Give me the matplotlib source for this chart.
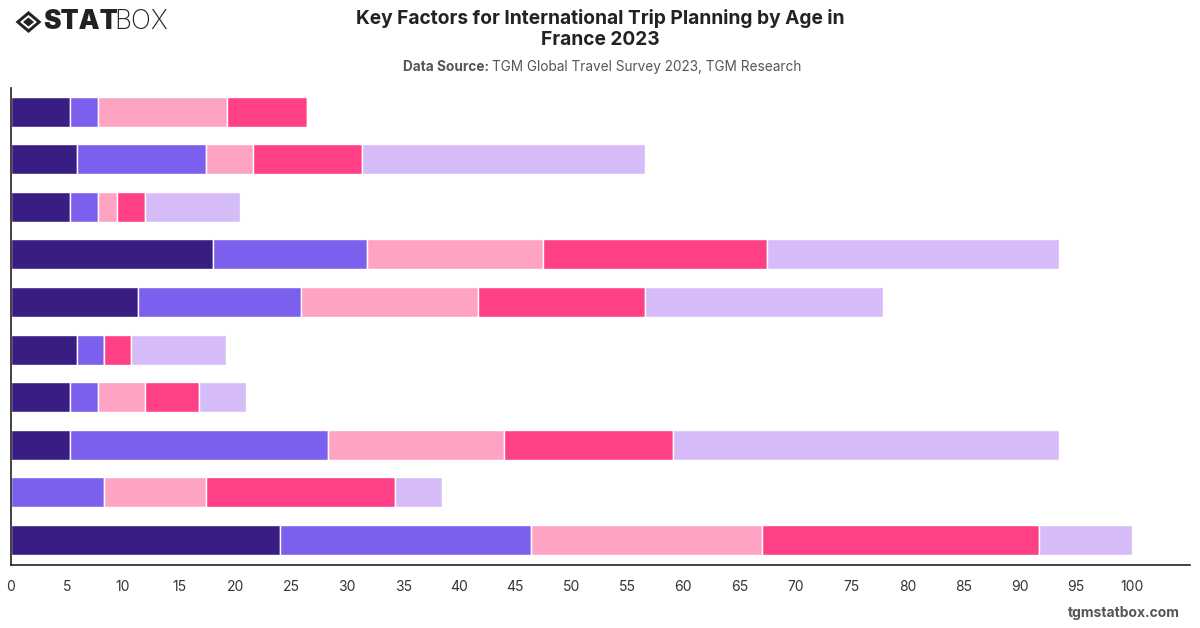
import matplotlib
matplotlib.use("Agg")
import matplotlib.pyplot as plt
from matplotlib.patches import Polygon
import numpy as np

plt.rcParams['font.family'] = ['Inter', 'DejaVu Sans']

categories = ["Factor 1", "Factor 2", "Factor 3", "Factor 4", "Factor 5",
              "Factor 6", "Factor 7", "Factor 8", "Factor 9", "Factor 10"]
series_names = ["Age group 1", "Age group 2", "Age group 3", "Age group 4", "Age group 5"]
s1 = [5.3, 5.9, 5.3, 18.0, 11.3, 5.9, 5.3, 5.3, 0.0, 24.0]
s2 = [2.5, 11.5, 2.5, 13.8, 14.6, 2.4, 2.5, 23.0, 8.3, 22.4]
s3 = [11.5, 4.2, 1.7, 15.7, 15.8, 0.0, 4.2, 15.7, 9.1, 20.6]
s4 = [7.1, 9.7, 2.5, 20.0, 14.9, 2.4, 4.8, 15.1, 16.9, 24.7]
s5 = [0.0, 25.3, 8.4, 26.0, 21.2, 8.5, 4.2, 34.4, 4.2, 8.3]
series = [s1, s2, s3, s4, s5]
colors = ["#391d83", "#7d5fed", "#ffa3c4", "#ff3f86", "#d5bbf8"]
xticks = list(range(0, 101, 5))

fig = plt.figure(figsize=(12, 6.28), dpi=100)
ax = fig.add_axes([11/1200, 63/628, (1190-11)/1200, (565-88)/628])

y = np.arange(len(categories))
left = np.zeros(len(categories))
for vals, c, name in zip(series, colors, series_names):
    v = np.array(vals)
    ax.barh(y, v, left=left, height=0.63, color=c, edgecolor="white",
            linewidth=1.0, label=name)
    left = left + v

ax.set_xlim(0, 105.2)
ax.set_ylim(9.53, -0.5)
ax.set_yticks([])
ax.set_xticks(xticks)
ax.set_xticklabels([str(t) for t in xticks], fontsize=10, color="#333333")
for lbl in ax.get_xticklabels():
    lbl.set_x(lbl.get_position()[0])
ax.tick_params(axis='x', length=0, pad=11)
for s in ["top", "right"]:
    ax.spines[s].set_visible(False)
ax.spines["left"].set_color("#222222")
ax.spines["bottom"].set_color("#222222")
ax.spines["left"].set_linewidth(1.2)
ax.spines["bottom"].set_linewidth(1.2)

fig.text(0.5, 1 - 18/628, "Key Factors for International Trip Planning by Age in",
         ha="center", va="center", fontsize=13.8, fontweight="bold", color="#222222")
fig.text(0.5, 1 - 40/628, "France 2023",
         ha="center", va="center", fontsize=13.8, fontweight="bold", color="#222222")
fig.text(489/1200, 1 - 67/628, "Data Source:", ha="right", va="center",
         fontsize=9.8, fontweight="bold", color="#555555")
fig.text(492/1200, 1 - 67/628, "TGM Global Travel Survey 2023, TGM Research",
         ha="left", va="center", fontsize=9.8, color="#555555")

# logo
cx, cy = 28.5/1200, 1 - 22/628
w, h = 13/1200, 11/628
fig.patches.append(Polygon([[cx - w, cy], [cx, cy + h], [cx + w, cy], [cx, cy - h]],
                           closed=True, transform=fig.transFigure, facecolor="#222222",
                           edgecolor="none"))
w2, h2 = 8.5/1200, 7/628
fig.patches.append(Polygon([[cx - w2, cy], [cx, cy + h2], [cx + w2, cy], [cx, cy - h2]],
                           closed=True, transform=fig.transFigure, facecolor="white",
                           edgecolor="none"))
w3, h3 = 5.5/1200, 4.5/628
fig.patches.append(Polygon([[cx - w3, cy], [cx, cy + h3], [cx + w3, cy], [cx, cy - h3]],
                           closed=True, transform=fig.transFigure, facecolor="#222222",
                           edgecolor="none"))
fig.text(43/1200, cy, "STAT", ha="left", va="center", fontsize=19,
         fontweight="black", color="#222222")
fig.text(114/1200, cy, "BOX", ha="left", va="center", fontsize=19,
         fontweight="light", color="#222222")

fig.text(1180/1200, 1 - 613/628, "tgmstatbox.com", ha="right", va="center",
         fontsize=10, fontweight="bold", color="#555555")

fig.savefig("out.png", dpi=100)
